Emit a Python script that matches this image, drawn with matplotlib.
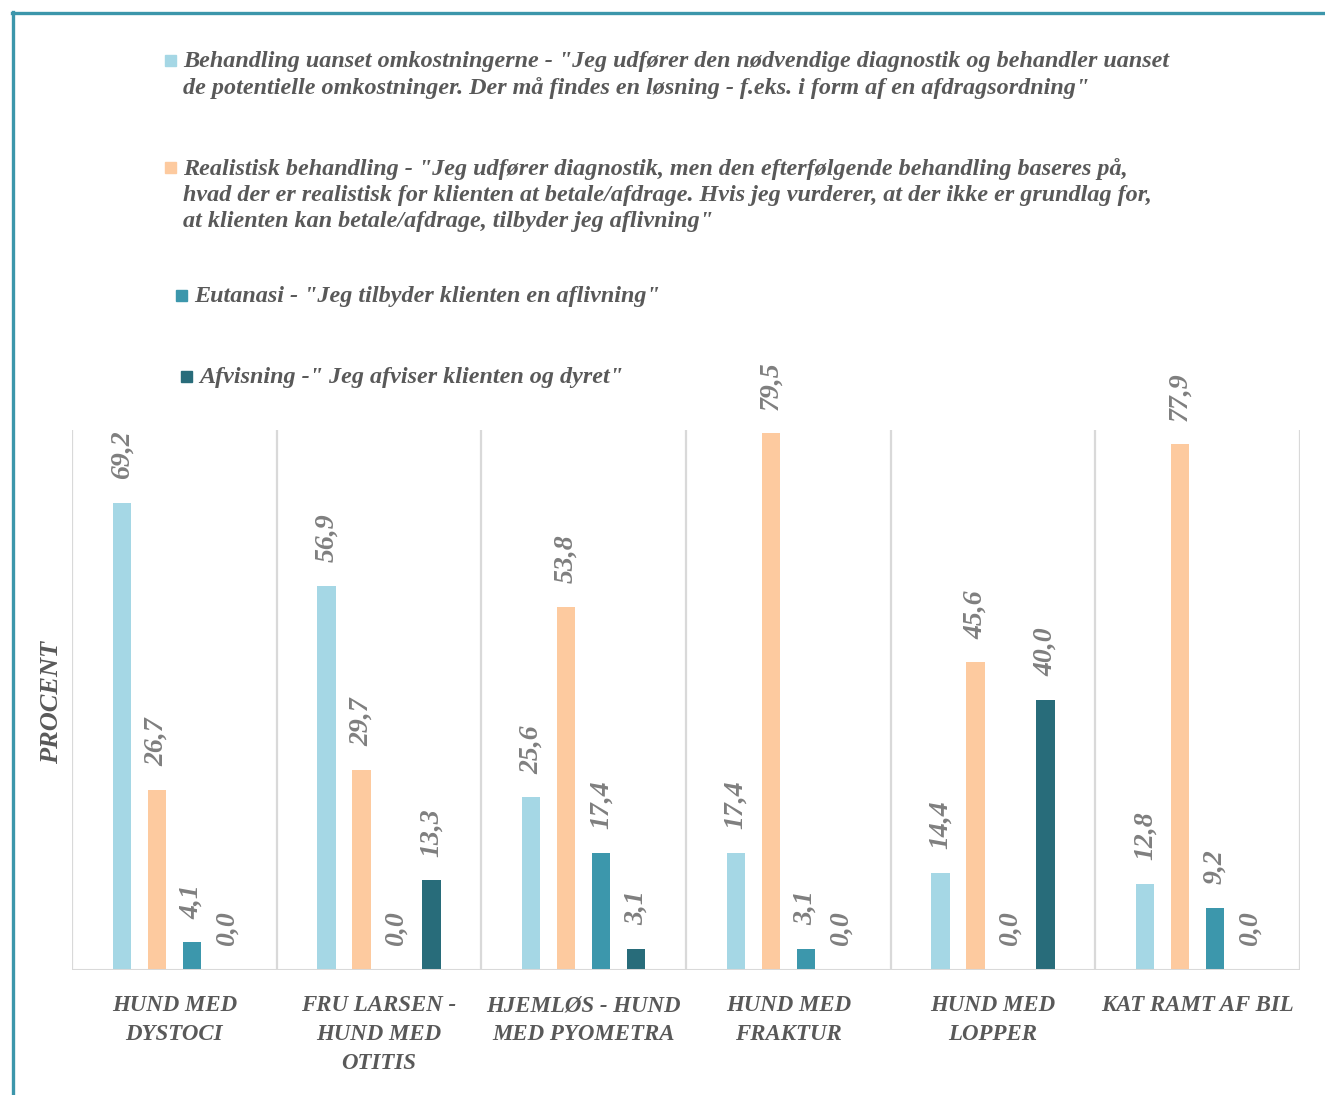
import matplotlib
matplotlib.use("Agg")
import matplotlib.pyplot as plt
from matplotlib.lines import Line2D
from matplotlib.patches import Rectangle

categories = ["HUND MED\nDYSTOCI", "FRU LARSEN -\nHUND MED\nOTITIS", "HJEMLØS - HUND\nMED PYOMETRA",
              "HUND MED\nFRAKTUR", "HUND MED\nLOPPER", "KAT RAMT AF BIL"]
series_names = [
    'Behandling uanset omkostningerne - "Jeg udfører den nødvendige diagnostik og behandler uanset\n'
    'de potentielle omkostninger. Der må findes en løsning - f.eks. i form af en afdragsordning"',
    'Realistisk behandling - "Jeg udfører diagnostik, men den efterfølgende behandling baseres på,\n'
    'hvad der er realistisk for klienten at betale/afdrage. Hvis jeg vurderer, at der ikke er grundlag for,\n'
    'at klienten kan betale/afdrage, tilbyder jeg aflivning"',
    'Eutanasi - "Jeg tilbyder klienten en aflivning"',
    'Afvisning -" Jeg afviser klienten og dyret"',
]
behandling = [69.2, 56.9, 25.6, 17.4, 14.4, 12.8]
realistisk = [26.7, 29.7, 53.8, 79.5, 45.6, 77.9]
eutanasi = [4.1, 0.0, 17.4, 3.1, 0.0, 9.2]
afvisning = [0.0, 13.3, 3.1, 0.0, 40.0, 0.0]
series = [behandling, realistisk, eutanasi, afvisning]
colors = ["#a5d7e5", "#fdca9f", "#3c97ac", "#286c7a"]

W, H = 1325, 1095
fig = plt.figure(figsize=(W / 100, H / 100), dpi=100)
FONT = "Liberation Serif"
GRAY = "#595959"
VGRAY = "#7f7f7f"

ax = fig.add_axes([72 / W, 1 - 970 / H, (1300 - 72) / W, (970 - 430) / H])
ax.set_xlim(-0.5, len(categories) - 0.5)
ax.set_ylim(0, 80)
for s in ax.spines.values():
    s.set_visible(False)
ax.set_yticks([])
ax.set_xticks([])

for i in range(len(categories) + 1):
    ax.axvline(i - 0.5, color="#d9d9d9", lw=1.6, zorder=0)
ax.axhline(0, color="#d9d9d9", lw=2.2, zorder=3)

spacing = 0.171
width = 0.088
for j, (vals, c) in enumerate(zip(series, colors)):
    xs = [i + (j - 1.5) * spacing for i in range(len(categories))]
    ax.bar(xs, vals, width=width, color=c, zorder=2)
    for x, v in zip(xs, vals):
        ax.annotate(f"{v:.1f}".replace(".", ","), xy=(x, v), xytext=(0, 17),
                    textcoords="offset points", rotation=90, ha="center", va="bottom",
                    fontsize=20, fontfamily=FONT, fontweight="bold", fontstyle="italic",
                    color=VGRAY)

for i, lab in enumerate(categories):
    ax.text(i, -0.047, lab, transform=ax.get_xaxis_transform(), ha="center", va="top",
            fontsize=16.5, fontfamily=FONT, fontweight="bold", fontstyle="italic",
            color=GRAY, linespacing=1.5)

fig.text(52 / W, 1 - 702 / H, "PROCENT", rotation=90, ha="center", va="center",
         fontsize=19, fontfamily=FONT, fontweight="bold", fontstyle="italic", color=GRAY)

# legend (manual)
leg_pos = [(165, 183, 61), (165, 183, 168), (176, 194, 296), (181, 199, 377)]
for (mx, tx, ty), name, c in zip(leg_pos, series_names, colors):
    fig.patches.append(Rectangle((mx / W, 1 - (ty + 5) / H), 11 / W, 11 / H,
                                 transform=fig.transFigure, color=c, figure=fig))
    fig.text(tx / W, 1 - (ty - 10) / H, name, ha="left", va="top", fontsize=17.4,
             fontfamily=FONT, fontweight="bold", fontstyle="italic", color=GRAY,
             linespacing=1.3)

# outer frame
fig.lines.append(Line2D([12 / W, 1], [1 - 12.5 / H, 1 - 12.5 / H], transform=fig.transFigure,
                        color="#3c96ab", lw=2.4))
fig.lines.append(Line2D([12.5 / W, 12.5 / W], [1 - 12 / H, 0], transform=fig.transFigure,
                        color="#3c96ab", lw=2.4))

fig.savefig("out.png", dpi=100)
